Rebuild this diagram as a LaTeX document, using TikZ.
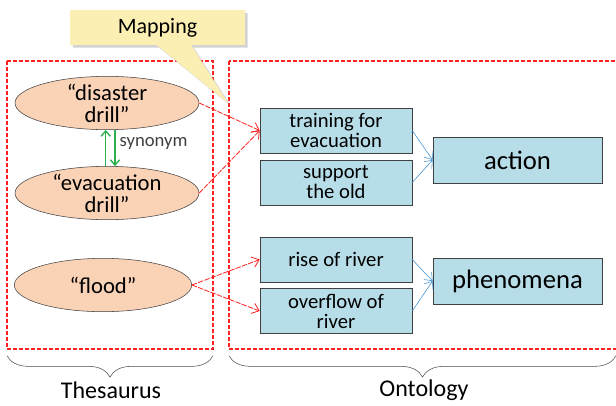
\documentclass[tikz,border=0pt]{standalone}
\usepackage{fontspec}
\setmainfont{Carlito}
\usetikzlibrary{arrows.meta,shapes.geometric,shapes.callouts,shadows,decorations.pathreplacing}
\definecolor{termfill}{HTML}{FAD3B7}
\definecolor{boxfill}{HTML}{B7DEE8}
\definecolor{notefill}{HTML}{FBEFB3}
\definecolor{synline}{HTML}{2DB04B}
\definecolor{isaline}{HTML}{3B8ED2}
\definecolor{mapred}{HTML}{FF2020}
\tikzset{
    term-ellipse/.style = {draw=black!75, fill=termfill, ellipse, inner sep=0pt, minimum width=138pt, minimum height=40pt},
    term-text/.style = {align=center, inner sep=0pt, font=\fontsize{17}{16.5}\selectfont},
    concept-box/.style = {draw=black!75, fill=boxfill, rectangle, inner sep=0pt, minimum width=114pt, minimum height=34pt, align=center, font=\fontsize{15.5}{15}\selectfont},
    class-box/.style = {concept-box, minimum width=127pt, minimum height=34.5pt, font=\fontsize{20}{22}\selectfont},
    group-frame/.style = {mapred, line width=0.8pt, dash pattern=on 3pt off 1.5pt},
    group-brace/.style = {draw=black!70, decorate, decoration={brace, mirror, amplitude=16pt}},
    group-label/.style = {font=\fontsize{18}{20}\selectfont},
    map-arrow/.style = {draw=mapred, line width=0.6pt, dash pattern=on 4pt off 1pt, -{Straight Barb[length=5pt, width=8pt]}},
    isa-arrow/.style = {draw=isaline, -{Straight Barb[length=5pt, width=8pt]}},
    syn-arrow/.style = {draw=synline, line width=1pt, -{Straight Barb[length=4pt, width=7pt]}},
    note-callout/.style = {rectangle callout, fill=notefill, minimum width=131pt, minimum height=26pt, callout pointer width=26pt, font=\fontsize{16.5}{19}\selectfont, drop shadow={opacity=0.35, shadow xshift=2pt, shadow yshift=-2pt}},
}
\begin{document}
\begin{tikzpicture}[x=0.75pt, y=-0.75pt]
\useasboundingbox (0,0) rectangle (616,405);
\coordinate (thes-nw) at (7,61);
\coordinate (thes-se) at (213,349);
\coordinate (onto-nw) at (229,61);
\coordinate (onto-se) at (620,349);

\node[term-ellipse, label={[term-text]center:{“disaster\\drill”}}] (drill) at (107,103) {};
\node[term-ellipse, label={[term-text]center:{“evacuation\\drill”}}] (evac) at (107,193) {};
\node[term-ellipse, minimum width=133pt, label={[term-text]center:{“flood”}}] (flood) at (103,285) {};

\draw[syn-arrow] ([xshift=-1pt]evac.north) -- ([xshift=-1pt]drill.south);
\draw[syn-arrow] ([xshift=6pt]drill.south) -- node[right, pos=0.38, inner sep=3pt, text=black!75, font=\fontsize{14}{15}\selectfont] (syn-label) {synonym} ([xshift=6pt]evac.north);

\node[concept-box] (training) at (336,130.5) {training for\\evacuation};
\node[concept-box] (support) at (336,182.5) {support\\the old};
\node[concept-box] (rise) at (336,259.5) {rise of river};
\node[concept-box] (overflow) at (336,311) {overflow of\\river};
\node[class-box] (action) at (517.5,160) {action};
\node[class-box] (phenom) at (517.5,281) {phenomena};

\draw[map-arrow] (drill.east) -- (training.west);
\draw[map-arrow] (evac.east) -- (training.west);
\draw[map-arrow] (flood.east) -- (rise.west);
\draw[map-arrow] (flood.east) -- (overflow.west);

\draw[isa-arrow] (training.east) -- (action.west);
\draw[isa-arrow] (support.east) -- (action.west);
\draw[isa-arrow] (rise.east) -- (phenom.west);
\draw[isa-arrow] (overflow.east) -- (phenom.west);

\draw[group-frame] (thes-nw) rectangle (thes-se);
\draw[group-frame] (onto-nw) rectangle (onto-se);

\draw[group-brace] ([yshift=-5pt]thes-nw |- thes-se) -- ([yshift=-5pt]thes-se);
\draw[group-brace] ([yshift=-5pt]onto-nw |- onto-se) -- ([xshift=-3pt, yshift=-5pt]onto-se);
\node[group-label] (thes-label) at (111,390) {Thesaurus};
\node[group-label] (onto-label) at (424,390) {Ontology};

\coordinate (map-tip) at (228,103);
\node[note-callout, callout absolute pointer={(map-tip)}] (mapping) at (157.5,27.5) {Mapping};
\end{tikzpicture}
\end{document}
